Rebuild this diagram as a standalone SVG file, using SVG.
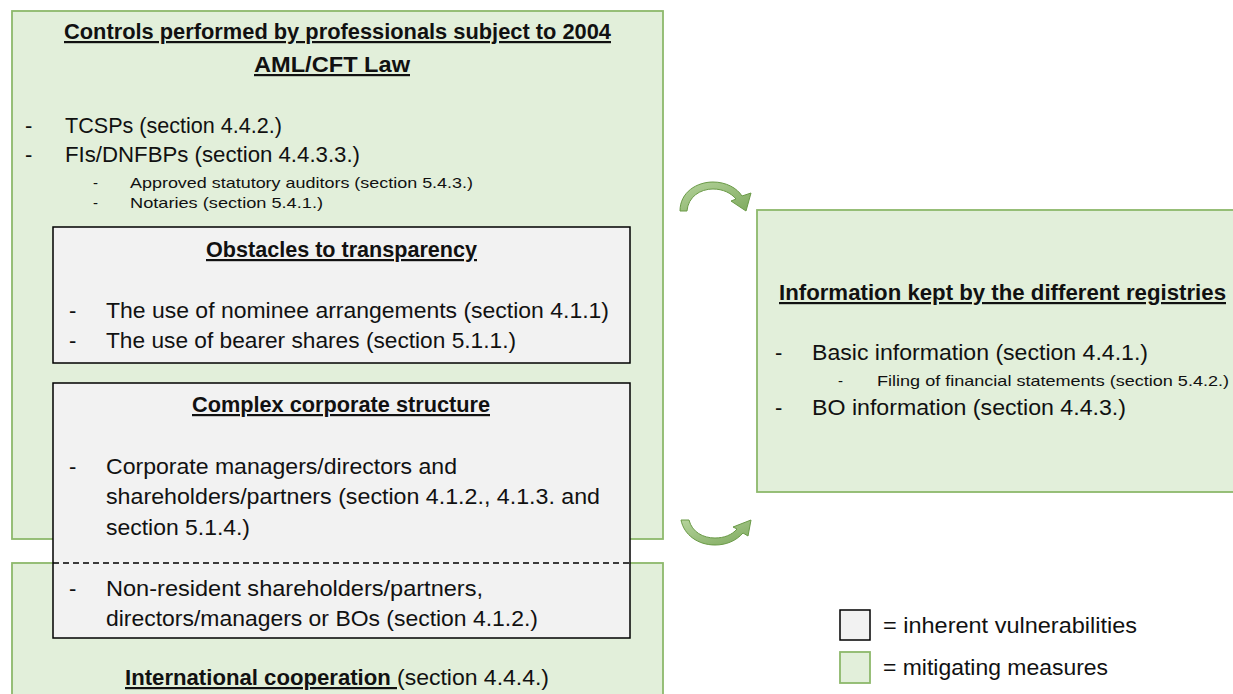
<svg xmlns="http://www.w3.org/2000/svg" width="1233" height="694" viewBox="0 0 1233 694">
<style>
.green{fill:#E2EFDA;stroke:#8DB86B;stroke-width:1.8}
.gray{fill:#F2F2F2;stroke:#000;stroke-width:1.5}
text{font-family:"Liberation Sans",Arial,sans-serif;fill:#111}
.t{font-size:22px}
.s{font-size:15px}
.h{font-size:22px;font-weight:bold;text-decoration:underline}
.arrow{fill:url(#ag);stroke:#6A9A47;stroke-width:1}
</style>
<defs>
<linearGradient id="ag" x1="0" y1="0" x2="1" y2="1">
<stop offset="0" stop-color="#B5D39C"/>
<stop offset="1" stop-color="#7FAA5E"/>
</linearGradient>
</defs>
<rect width="1233" height="694" fill="#fff"/>
<g id="controls">
<rect class="green" x="12" y="11" width="651" height="528"/>
<text class="h" x="64" y="39" textLength="547" lengthAdjust="spacingAndGlyphs">Controls performed by professionals subject to 2004</text>
<text class="h" x="254" y="72" textLength="156" lengthAdjust="spacingAndGlyphs">AML/CFT Law</text>
<text class="t" x="25" y="133">-</text>
<text class="t" x="65" y="133" textLength="217" lengthAdjust="spacingAndGlyphs">TCSPs (section 4.4.2.)</text>
<text class="t" x="25" y="162">-</text>
<text class="t" x="65" y="162" textLength="295" lengthAdjust="spacingAndGlyphs">FIs/DNFBPs (section 4.4.3.3.)</text>
<text class="s" x="93" y="188">-</text>
<text class="s" x="130" y="188" textLength="343" lengthAdjust="spacingAndGlyphs">Approved statutory auditors (section 5.4.3.)</text>
<text class="s" x="93" y="208">-</text>
<text class="s" x="130" y="208" textLength="193" lengthAdjust="spacingAndGlyphs">Notaries (section 5.4.1.)</text>
</g>
<g id="intl">
<rect class="green" x="12" y="563" width="651" height="150"/>
<text x="125" y="685" class="t"><tspan font-weight="bold" text-decoration="underline" textLength="272" lengthAdjust="spacingAndGlyphs">International cooperation </tspan><tspan x="397" textLength="152" lengthAdjust="spacingAndGlyphs">(section 4.4.4.)</tspan></text>
</g>
<g id="obstacles">
<rect class="gray" x="53" y="227" width="577" height="136"/>
<text class="h" x="206" y="257" textLength="271" lengthAdjust="spacingAndGlyphs">Obstacles to transparency</text>
<text class="t" x="69" y="318">-</text>
<text class="t" x="106" y="318" textLength="503" lengthAdjust="spacingAndGlyphs">The use of nominee arrangements (section 4.1.1)</text>
<text class="t" x="69" y="348">-</text>
<text class="t" x="106" y="348" textLength="410" lengthAdjust="spacingAndGlyphs">The use of bearer shares (section 5.1.1.)</text>
</g>
<g id="complex">
<rect class="gray" x="53" y="383" width="577" height="255"/>
<line x1="53" y1="563" x2="630" y2="563" stroke="#000" stroke-width="1.5" stroke-dasharray="6,4"/>
<text class="h" x="192" y="412" textLength="298" lengthAdjust="spacingAndGlyphs">Complex corporate structure</text>
<text class="t" x="69" y="474">-</text>
<text class="t" x="106" y="474" textLength="351" lengthAdjust="spacingAndGlyphs">Corporate managers/directors and</text>
<text class="t" x="106" y="504" textLength="494" lengthAdjust="spacingAndGlyphs">shareholders/partners (section 4.1.2., 4.1.3. and</text>
<text class="t" x="106" y="535" textLength="144" lengthAdjust="spacingAndGlyphs">section 5.1.4.)</text>
<text class="t" x="69" y="596">-</text>
<text class="t" x="106" y="596" textLength="377" lengthAdjust="spacingAndGlyphs">Non-resident shareholders/partners,</text>
<text class="t" x="106" y="626" textLength="432" lengthAdjust="spacingAndGlyphs">directors/managers or BOs (section 4.1.2.)</text>
</g>
<g id="registries">
<rect class="green" x="757" y="210" width="490" height="282"/>
<text class="h" x="779" y="300" textLength="447" lengthAdjust="spacingAndGlyphs">Information kept by the different registries</text>
<text class="t" x="775" y="360">-</text>
<text class="t" x="812" y="360" textLength="336" lengthAdjust="spacingAndGlyphs">Basic information (section 4.4.1.)</text>
<text class="s" x="838" y="386">-</text>
<text class="s" x="877" y="386" textLength="352" lengthAdjust="spacingAndGlyphs">Filing of financial statements (section 5.4.2.)</text>
<text class="t" x="775" y="415">-</text>
<text class="t" x="812" y="415" textLength="314" lengthAdjust="spacingAndGlyphs">BO information (section 4.4.3.)</text>
</g>
<g id="legend">
<rect class="gray" x="840" y="610" width="30" height="30"/>
<text class="t" x="883" y="633" textLength="254" lengthAdjust="spacingAndGlyphs">= inherent vulnerabilities</text>
<rect class="green" x="840" y="652" width="30" height="31"/>
<text class="t" x="883" y="675" textLength="225" lengthAdjust="spacingAndGlyphs">= mitigating measures</text>
</g>
<g id="connectors">
<path class="arrow" d="M680 211 C680 192 697 182 713 182 C726 182 737 188 742 196 L751 193 L746 211 L731 201 L736 199 C731 193 723 189 713 189 C700 189 688 197 687 211 Z"/>
<path class="arrow" d="M681 520 L689 520 C692 532 703 538 715 538 C724 538 732 535 737 529 L733 527 L751 520 L748 536 L743 533 C736 541 726 545 715 545 C698 545 684 535 681 520 Z"/>
</g>
</svg>
